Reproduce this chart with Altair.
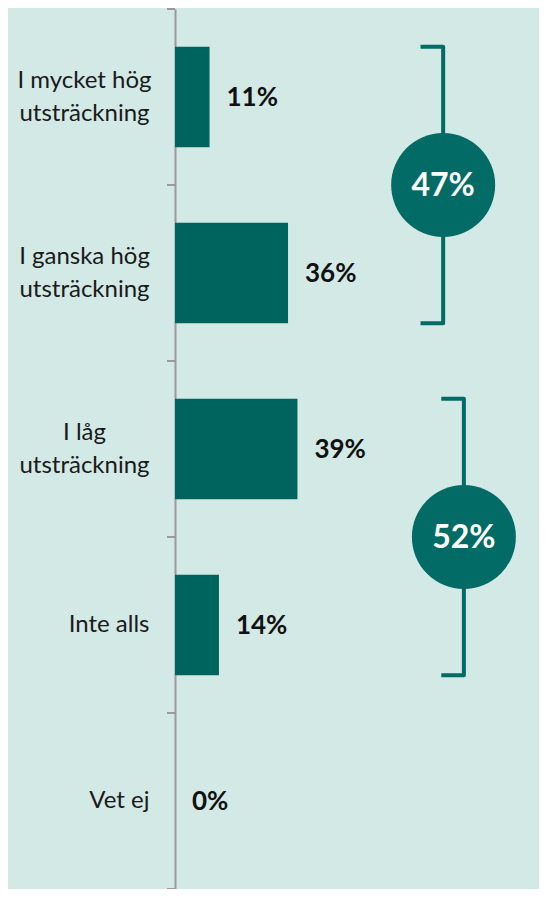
import altair as alt
import pandas as pd

# ---- data ----
categories = ["I mycket hög|utsträckning", "I ganska hög|utsträckning",
              "I låg|utsträckning", "Inte alls", "Vet ej"]
values = [11, 36, 39, 14, 0]
value_labels = ["11%", "36%", "39%", "14%", "0%"]

group_labels = ["47%", "52%"]
group_first = [0, 2]   # index of first category in group
group_last = [1, 3]    # index of last category in group

# ---- layout / style constants ----
BG = "#d2e9e6"
BAR = "#00645e"
ACCENT = "#026b65"
AXIS = "#9a9a9a"
PLOT_W = 364
XMAX = PLOT_W / 3.14
PAD_INNER = 0.43
INSET = PAD_INNER / 2
bracket_x = [85.4, 92.0]
hook_len = 7.2

df = pd.DataFrame({"cat": categories, "value": values, "label": value_labels})

xs = alt.Scale(domain=[0, XMAX], nice=False, zero=True)
ysc = alt.Scale(domain=categories, paddingInner=PAD_INNER, paddingOuter=INSET)

multi = "indexof(datum.value, '|') >= 0"
yaxis = alt.Axis(
    ticks=False, domainColor=AXIS, domainWidth=2,
    labelFont="Lato", labelFontSize=24, labelColor="#1a1a1a",
    labelLineHeight=33, labelLimit=300,
    labelExpr="split(datum.value, '|')",
    labelAlign={"condition": {"test": multi, "value": "center"}, "value": "right"},
    labelPadding={"condition": {"test": multi, "value": 91}, "value": 26},
    labelOffset={"condition": {"test": multi, "value": -16}, "value": 0},
)

bars = alt.Chart(df).mark_bar(color=BAR).encode(
    x=alt.X("value:Q", scale=xs, axis=None),
    y=alt.Y("cat:N", scale=ysc, sort=categories, title=None, axis=yaxis),
)

vtext = alt.Chart(df).mark_text(align="left", baseline="middle", dx=17, dy=1,
                                font="Lato", fontSize=26, fontWeight="bold",
                                color="#111111").encode(
    x=alt.X("value:Q", scale=xs, axis=None),
    y=alt.Y("cat:N", scale=ysc, sort=categories, title=None, axis=yaxis),
    text="label:N",
)

# bracket geometry built from group spans
rows = []
for g, (lab, f, l) in enumerate(zip(group_labels, group_first, group_last)):
    bx = bracket_x[g]
    top = f + INSET
    bot = l + 1 - INSET
    pts = [(bx - hook_len, top), (bx, top), (bx, bot), (bx - hook_len, bot)]
    for o, (px, py) in enumerate(pts):
        rows.append({"g": lab, "o": o, "x": px, "y": py})
lines_df = pd.DataFrame(rows)

circ_df = pd.DataFrame({
    "g": group_labels,
    "x": bracket_x,
    "y": [(f + l + 1) / 2 for f, l in zip(group_first, group_last)],
})

tick_df = pd.DataFrame({"b": list(range(len(categories) + 1))})

yq = alt.Scale(domain=[0, len(categories)], reverse=True, nice=False, zero=False)

ticks = alt.Chart(tick_df).mark_rule(color=AXIS, strokeWidth=2).encode(
    y=alt.Y("b:Q", scale=yq, axis=None),
    x=alt.value(-8),
    x2=alt.value(0),
)

brackets = alt.Chart(lines_df).mark_line(color=ACCENT, strokeWidth=4,
                                         strokeJoin="round", strokeCap="butt").encode(
    x=alt.X("x:Q", scale=xs, axis=None),
    y=alt.Y("y:Q", scale=yq, axis=None),
    detail="g:N",
    order="o:Q",
)

circles = alt.Chart(circ_df).mark_circle(color=ACCENT, opacity=1, size=10816).encode(
    x=alt.X("x:Q", scale=xs, axis=None),
    y=alt.Y("y:Q", scale=yq, axis=None),
)

ctext = alt.Chart(circ_df).mark_text(color="white", font="Lato", fontSize=32,
                                     fontWeight="bold", baseline="middle", dy=1).encode(
    x=alt.X("x:Q", scale=xs, axis=None),
    y=alt.Y("y:Q", scale=yq, axis=None),
    text="g:N",
)

chart = alt.layer(
    alt.layer(bars, vtext),
    alt.layer(ticks, brackets, circles, ctext),
).resolve_scale(y="independent").properties(
    width=PLOT_W, height=880,
    background=BG,
    padding={"left": 167, "top": 1, "right": 0, "bottom": 0},
    autosize=alt.AutoSizeParams(type="none"),
).configure_view(stroke=None)

chart.save("out.html", embed_options={"renderer": "svg", "actions": False})
